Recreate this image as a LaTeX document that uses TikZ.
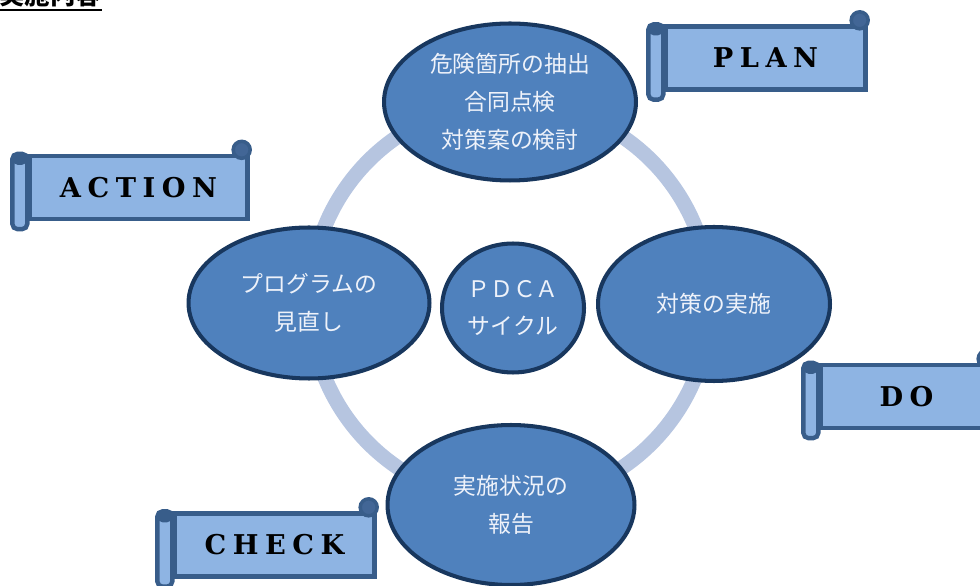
\documentclass[tikz,border=0pt]{standalone}
\usepackage{fontspec}
\newfontfamily\jpfont{Noto Sans CJK JP}
\newfontfamily\bannerfont[LetterSpace=24]{DejaVu Serif}
\usepackage{tikz}
\usetikzlibrary{shapes.geometric, calc}
\definecolor{stagefill}{RGB}{79, 129, 189}
\definecolor{stageline}{RGB}{24, 55, 94}
\definecolor{stagetext}{RGB}{238, 242, 250}
\definecolor{ringcolor}{RGB}{182, 197, 224}
\definecolor{scrollfill}{RGB}{142, 180, 227}
\definecolor{scrollline}{RGB}{56, 93, 138}
\definecolor{knobfill}{RGB}{66, 102, 150}

\begin{document}
\begin{tikzpicture}[
    x=0.02cm, y=0.02cm,
    stage/.style={ellipse, draw=stageline, fill=stagefill, line width=2.3pt, inner sep=0pt, text=stagetext, align=center, font=\jpfont\fontsize{13}{21.6}\selectfont},
    banner/.style={draw=scrollline, fill=scrollfill, line width=2.5pt, minimum width=4cm, minimum height=1.26cm, inner sep=0pt, font=\bannerfont\bfseries\fontsize{15.5}{18}\selectfont},
    tube/.style={draw=scrollline, fill=scrollfill, line width=2.5pt, rounded corners=3pt},
    knob/.style={draw=scrollline, fill=knobfill, line width=2pt}
]
    \clip (0,0) rectangle (980,585);

    % Heading (cut by the page edge)
    \node[font=\jpfont\bfseries\fontsize{14.5}{16}\selectfont, anchor=base west, inner sep=0pt] (head) at (-1,580) {実施内容};
    \draw[line width=1.3pt] ($(head.base west)+(1,-5)$) -- ($(head.base east)+(0,-5)$);

    % Cycle ring
    \coordinate (hub) at (510,283);
    \draw[ringcolor, line width=8.5pt] (hub) circle[radius=4cm];

    % Stages of the cycle
    \node[stage, minimum width=5.04cm, minimum height=3.14cm] (plan) at (510,483) {危険箇所の抽出\\合同点検\\対策案の検討};
    \node[stage, minimum width=4.64cm, minimum height=3.08cm] (do) at (714,281) {対策の実施};
    \node[stage, minimum width=4.94cm, minimum height=3.2cm] (check) at (511,80) {実施状況の\\報告};
    \node[stage, minimum width=4.82cm, minimum height=3.02cm] (act) at (309,282) {プログラムの\\見直し};
    \node[stage, minimum width=2.84cm, minimum height=2.58cm] (pdca) at (513,277) {ＰＤＣＡ\\サイクル};

    % Scroll banners
    \node[banner] (planbox) at (765.5,527) {PLAN};
    \node[banner, minimum width=3.44cm] (dobox) at (906.5,188.5) {DO};
    \node[banner] (chkbox) at (274.5,40) {CHECK};
    \node[banner, minimum width=4.36cm] (actbox) at (138.5,397.5) {ACTION};

    \foreach \b in {planbox, dobox, chkbox, actbox} {
        \draw[tube] ($(\b.north west)+(-15,0)$) rectangle ($(\b.south west)+(0,-8)$);
        \fill[scrollline, rounded corners=3pt] ($(\b.north west)+(-15,1)$) rectangle ($(\b.north west)+(0,-11)$);
        \draw[knob] ($(\b.north east)+(-8,4)$) circle[radius=0.17cm];
    }
\end{tikzpicture}
\end{document}
